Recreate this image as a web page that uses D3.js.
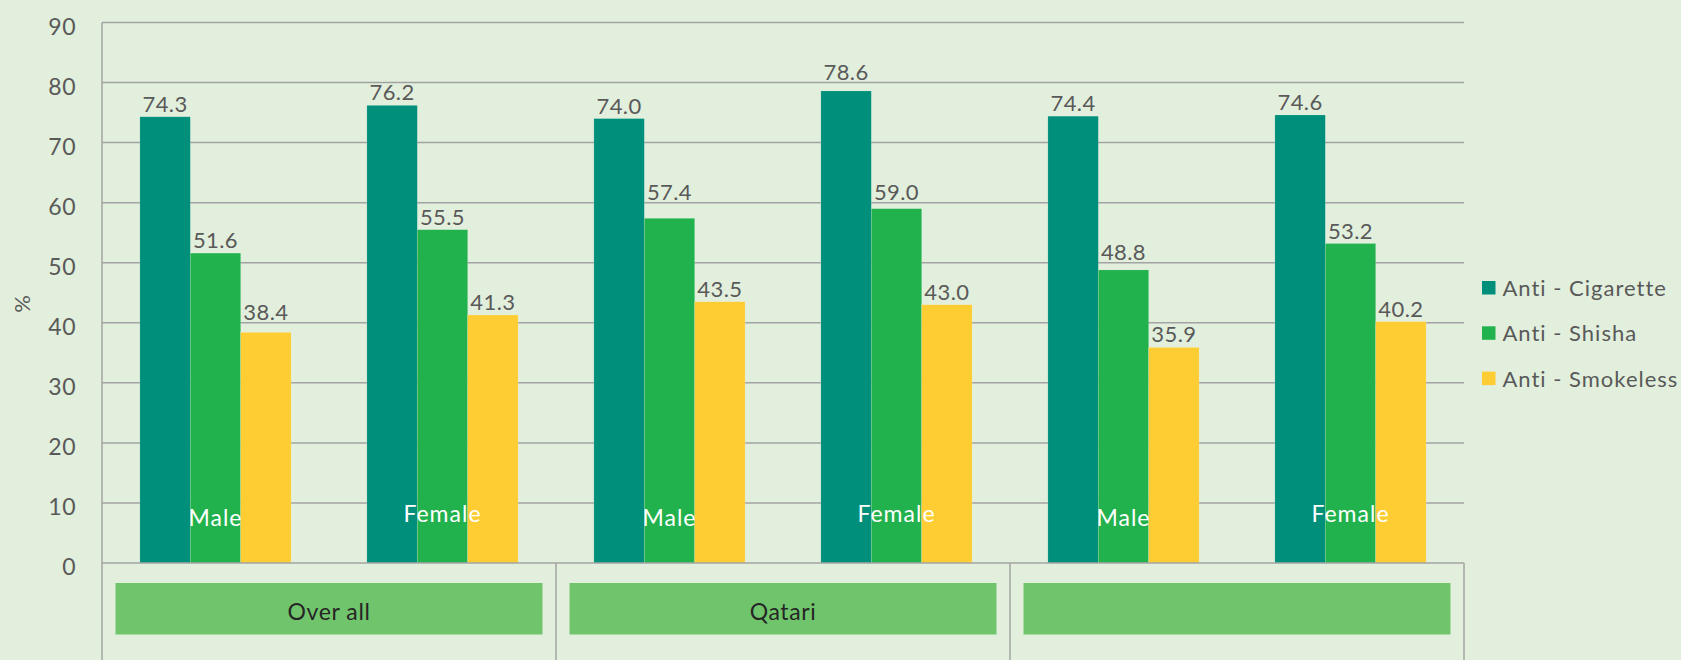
<!DOCTYPE html>
<html>
<head>
<meta charset="utf-8">
<script src="https://cdn.jsdelivr.net/npm/d3@7"></script>
<style>
  html, body { margin: 0; padding: 0; background: #E2EFDC; }
  svg { display: block; }
  text { font-family: Lato, "Open Sans", sans-serif; font-weight: 400; }
</style>
</head>
<body>
<svg id="chart" width="1681" height="660"></svg>
<script>
// ---- data ----
const categories = ["Male", "Female", "Male", "Female", "Male", "Female"];
const groups = ["Over all", "Qatari", ""];
const seriesNames = ["Anti - Cigarette", "Anti - Shisha", "Anti - Smokeless"];
const antiCigarette = [74.3, 76.2, 74.0, 78.6, 74.4, 74.6];
const antiShisha    = [51.6, 55.5, 57.4, 59.0, 48.8, 53.2];
const antiSmokeless = [38.4, 41.3, 43.5, 43.0, 35.9, 40.2];
const yTicks = [0, 10, 20, 30, 40, 50, 60, 70, 80, 90];
const colors = ["#008F7B", "#22B24D", "#FECD33"];

(function () {
const seriesValues = [antiCigarette, antiShisha, antiSmokeless];

const svg = d3.select("#chart");
const plotLeft = 102, plotRight = 1464, plotTop = 22.5, zeroY = 563, plotBottom = 660;

const catIdx = categories.map((d, i) => i);
const x0 = d3.scaleBand().domain(catIdx).range([plotLeft, plotRight]).padding(0);
const x1 = d3.scaleBand().domain(d3.range(seriesNames.length))
  .range([0, x0.bandwidth()]).paddingInner(0).paddingOuter(0.752);
const xg = d3.scaleBand().domain(d3.range(groups.length)).range([plotLeft, plotRight]).padding(0);
const y = d3.scaleLinear().domain([0, 90]).range([zeroY, plotTop]);

const gridColor = "#A3A3A3";
const textColor = "#595959";

// gridlines
svg.append("g").selectAll("line").data(yTicks.filter(t => t > 0)).join("line")
  .attr("x1", plotLeft).attr("x2", plotRight)
  .attr("y1", d => y(d)).attr("y2", d => y(d))
  .attr("stroke", gridColor).attr("stroke-width", 1.5);

// y tick labels
svg.append("g").selectAll("text").data(yTicks).join("text")
  .attr("x", 76).attr("y", d => y(d) + 4)
  .attr("dy", "0.35em")
  .attr("text-anchor", "end")
  .attr("font-size", 23)
  .attr("letter-spacing", 0.5)
  .attr("fill", textColor)
  .text(d => d);

// y axis title
svg.append("text")
  .attr("transform", "translate(22,304) rotate(-90)")
  .attr("text-anchor", "middle").attr("dy", "0.35em")
  .attr("font-size", 22).attr("fill", textColor)
  .text("%");

// label placement: sit above bar, but lift above a gridline if it would cross one
const gridYs = yTicks.filter(t => t > 0).map(t => y(t));
function labelBaseline(v) {
  let b = y(v) - 5;
  const hit = gridYs.find(g => g >= b - 16.5 && g <= b + 1);
  if (hit !== undefined) b = hit - 3;
  return b;
}

// bars
const rows = catIdx.map(i => seriesValues.map((vals, s) => ({ i, s, v: vals[i] })));
const gBars = svg.append("g");
rows.forEach(row => {
  gBars.selectAll(null).data(row).join("rect")
    .attr("x", d => x0(d.i) + x1(d.s))
    .attr("y", d => y(d.v))
    .attr("width", x1.bandwidth())
    .attr("height", d => zeroY - y(d.v))
    .attr("fill", d => colors[d.s])
    .attr("stroke", "#ffffff").attr("stroke-opacity", 0.25).attr("stroke-width", 0.6);
  gBars.selectAll(null).data(row).join("text")
    .attr("x", d => x0(d.i) + x1(d.s) + x1.bandwidth() / 2)
    .attr("y", d => labelBaseline(d.v))
    .attr("text-anchor", "middle")
    .attr("font-size", 22)
    .attr("letter-spacing", 0.4)
    .attr("fill", textColor)
    .text(d => d.v.toFixed(1));
});

// category labels (inside bars)
svg.append("g").selectAll("text").data(catIdx).join("text")
  .attr("x", d => x0(d) + x0.bandwidth() / 2)
  .attr("y", d => categories[d] === "Male" ? 526 : 522)
  .attr("text-anchor", "middle")
  .attr("font-size", 23)
  .attr("letter-spacing", 1)
  .attr("fill", "#ffffff")
  .text(d => categories[d]);

// axes lines
svg.append("line").attr("x1", plotLeft).attr("x2", plotRight).attr("y1", zeroY).attr("y2", zeroY)
  .attr("stroke", gridColor).attr("stroke-width", 1.5);
svg.append("line").attr("x1", plotLeft).attr("x2", plotLeft).attr("y1", plotTop).attr("y2", plotBottom)
  .attr("stroke", gridColor).attr("stroke-width", 1.5);
svg.append("g").selectAll("line").data(d3.range(groups.length)).join("line")
  .attr("x1", d => xg(d) + xg.bandwidth()).attr("x2", d => xg(d) + xg.bandwidth())
  .attr("y1", zeroY).attr("y2", plotBottom)
  .attr("stroke", gridColor).attr("stroke-width", 1.5);

// group boxes
const inset = 13.5;
svg.append("g").selectAll("rect").data(d3.range(groups.length)).join("rect")
  .attr("x", d => xg(d) + inset)
  .attr("y", 583)
  .attr("width", xg.bandwidth() - 2 * inset)
  .attr("height", 51.5)
  .attr("fill", "#70C56C");
svg.append("g").selectAll("text").data(d3.range(groups.length)).join("text")
  .attr("x", d => xg(d) + xg.bandwidth() / 2)
  .attr("y", 620)
  .attr("text-anchor", "middle")
  .attr("font-size", 23)
  .attr("letter-spacing", 0.6)
  .attr("fill", "#262626")
  .text(d => groups[d]);

// legend
const legend = svg.append("g").selectAll("g").data(seriesNames).join("g")
  .attr("transform", (d, i) => `translate(1482,${281 + i * 45.3})`);
legend.append("rect").attr("width", 13.5).attr("height", 13.5)
  .attr("fill", (d, i) => colors[i]);
legend.append("text").attr("x", 20.5).attr("y", 15)
  .attr("font-size", 22).attr("letter-spacing", 1)
  .attr("fill", textColor)
  .text(d => d);
})();
</script>
</body>
</html>
